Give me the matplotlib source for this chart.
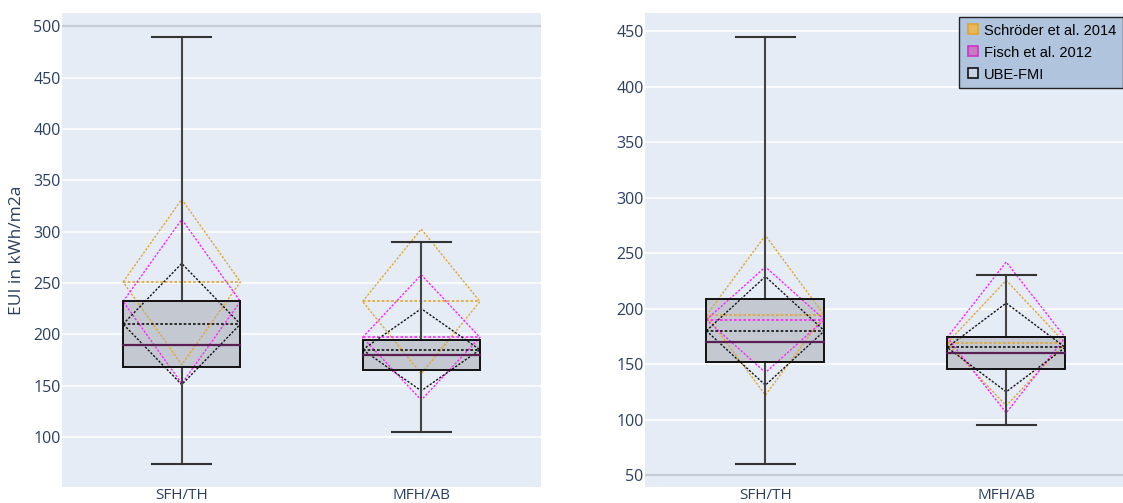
import matplotlib
matplotlib.use("Agg")
import matplotlib.pyplot as plt
from matplotlib.lines import Line2D
from matplotlib.patches import Rectangle, Polygon

categories = ["SFH/TH", "MFH/AB"]

# Left panel: UBE-FMI box statistics and mean/sd of each source
left_lower = [74, 105]
left_q1 = [168, 165]
left_median = [190, 180]
left_q3 = [232, 194.5]
left_upper = [490, 290]
left_ube_mean = [210, 185]
left_ube_sd = [59, 40]
left_schroeder_mean = [251, 232]
left_schroeder_sd = [80.5, 70.5]
left_fisch_mean = [232, 197]
left_fisch_sd = [80, 61]

# Right panel
right_lower = [60, 95]
right_q1 = [151.5, 145.5]
right_median = [170, 160]
right_q3 = [208.5, 174.5]
right_upper = [445, 230]
right_ube_mean = [180, 165]
right_ube_sd = [49, 40]
right_schroeder_mean = [194, 169]
right_schroeder_sd = [72, 56.5]
right_fisch_mean = [190, 174]
right_fisch_sd = [47.6, 68]

left_ticks = [100, 150, 200, 250, 300, 350, 400, 450, 500]
right_ticks = [50, 100, 150, 200, 250, 300, 350, 400, 450]

series_names = ["Schröder et al. 2014", "Fisch et al. 2012", "UBE-FMI"]
ORANGE = "#e0a52e"
MAGENTA = "#ff22ff"
BLACK = "#111111"
BG = "#e5ecf6"
TICK_COLOR = "#2a3f5f"
BOX_W = 0.49
DOTS = (0, (1.6, 1.2))

plt.rcParams["font.family"] = ["Open Sans", "DejaVu Sans"]

fig = plt.figure(figsize=(11.23, 5.03), dpi=100)
W, H = 1123, 503


def px_axes(x0, x1, y0, y1):
    return fig.add_axes([x0 / W, 1 - y1 / H, (x1 - x0) / W, (y1 - y0) / H])


def draw_panel(ax, lower, q1, med, q3, upper, means_sds, ticks, ylim, edge_line):
    ax.set_facecolor(BG)
    for s in ax.spines.values():
        s.set_visible(False)
    ax.set_ylim(*ylim)
    ax.set_xlim(-0.5, 1.5)
    ax.set_yticks(ticks)
    ax.set_xticks(range(len(categories)))
    ax.set_xticklabels(categories)
    ax.tick_params(axis="y", length=0, labelsize=11.5, labelcolor=TICK_COLOR, pad=1)
    ax.tick_params(axis="x", length=0, labelsize=11, labelcolor=TICK_COLOR, pad=1)
    ax.grid(axis="y", color="white", linewidth=1.1)
    ax.set_axisbelow(True)
    ax.axhline(edge_line, color="#c6cbd4", linewidth=1.6, zorder=1)

    for i in range(len(categories)):
        # box fill
        ax.add_patch(Rectangle((i - BOX_W / 2, q1[i]), BOX_W, q3[i] - q1[i],
                               facecolor="#c4c8d0", edgecolor="none", zorder=2))
        # mean ± sd diamonds and mean lines
        for (means, sds, col) in means_sds:
            m, s = means[i], sds[i]
            pts = [(i - BOX_W / 2, m), (i, m + s), (i + BOX_W / 2, m), (i, m - s)]
            ax.add_patch(Polygon(pts, closed=True, fill=False, edgecolor=col,
                                 linewidth=1.0, linestyle=DOTS, zorder=3))
            ax.plot([i - BOX_W / 2, i + BOX_W / 2], [m, m], color=col,
                    linewidth=1.2, linestyle=DOTS, zorder=3)
        # whiskers
        ax.plot([i, i], [q3[i], upper[i]], color="#444444", linewidth=1.5, zorder=4)
        ax.plot([i, i], [lower[i], q1[i]], color="#444444", linewidth=1.5, zorder=4)
        ax.plot([i - BOX_W / 4, i + BOX_W / 4], [upper[i]] * 2, color="#333333",
                linewidth=1.5, zorder=4)
        ax.plot([i - BOX_W / 4, i + BOX_W / 4], [lower[i]] * 2, color="#333333",
                linewidth=1.5, zorder=4)
        # box outline and median
        ax.add_patch(Rectangle((i - BOX_W / 2, q1[i]), BOX_W, q3[i] - q1[i],
                               facecolor="none", edgecolor=BLACK, linewidth=1.4, zorder=6))
        ax.plot([i - BOX_W / 2, i + BOX_W / 2], [med[i]] * 2, color="#5a1f52",
                linewidth=1.6, zorder=6)


ax1 = px_axes(62, 541, 13, 487)
draw_panel(ax1, left_lower, left_q1, left_median, left_q3, left_upper,
           [(left_schroeder_mean, left_schroeder_sd, ORANGE),
            (left_fisch_mean, left_fisch_sd, MAGENTA),
            (left_ube_mean, left_ube_sd, BLACK)],
           left_ticks, (51.3, 513), 500)
ax1.set_ylabel("EUI in kWh/m2a", fontsize=12.5, color=TICK_COLOR, labelpad=6)

ax2 = px_axes(645, 1123, 13, 487)
draw_panel(ax2, right_lower, right_q1, right_median, right_q3, right_upper,
           [(right_schroeder_mean, right_schroeder_sd, ORANGE),
            (right_fisch_mean, right_fisch_sd, MAGENTA),
            (right_ube_mean, right_ube_sd, BLACK)],
           right_ticks, (39.2, 466.5), 50)
ax2.set_xlim(-0.5, 1.485)

handles = [
    Line2D([], [], linestyle="none", marker="s", markersize=6.5,
           markerfacecolor="#e8b95a", markeredgecolor=ORANGE, markeredgewidth=1.2),
    Line2D([], [], linestyle="none", marker="s", markersize=6.5,
           markerfacecolor="#c77cc0", markeredgecolor="#cc33cc", markeredgewidth=1.2),
    Line2D([], [], linestyle="none", marker="s", markersize=6.5,
           markerfacecolor="#c9d3e3", markeredgecolor=BLACK, markeredgewidth=1.2),
]
leg = fig.legend(handles, series_names, loc="upper right",
                 bbox_to_anchor=(1.0, 1 - 17 / H), frameon=True, fancybox=False,
                 facecolor="#b0c4de", edgecolor="#222222", framealpha=1,
                 prop={"family": ["Liberation Sans", "DejaVu Sans"], "size": 10.5},
                 handletextpad=0.3, handlelength=1.0, borderpad=0.45,
                 labelspacing=0.55, borderaxespad=0)
leg.get_frame().set_linewidth(1.0)

fig.savefig("out.png", dpi=100, facecolor="white")
